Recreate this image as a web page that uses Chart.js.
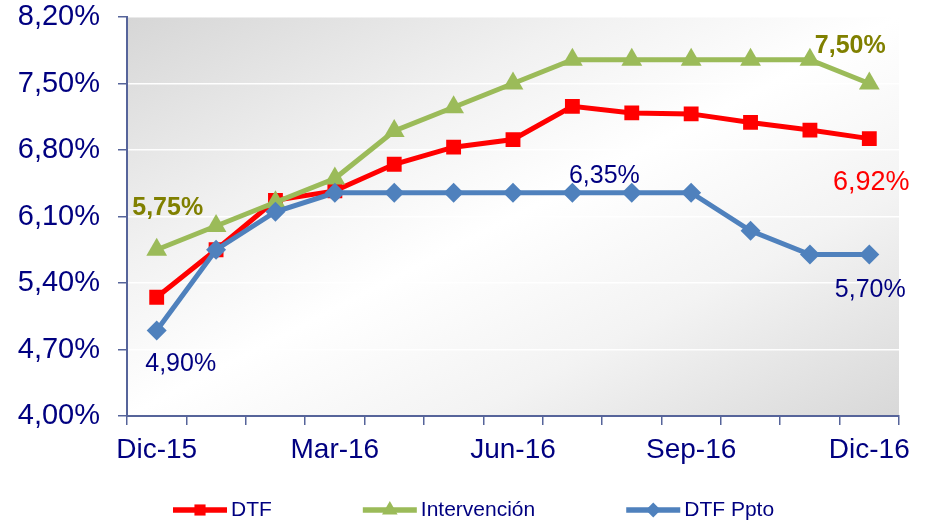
<!DOCTYPE html>
<html>
<head>
<meta charset="utf-8">
<script src="https://cdn.jsdelivr.net/npm/chart.js@4.4.0/dist/chart.umd.min.js"></script>
<style>
  html, body { margin: 0; padding: 0; background: #fff; }
  #wrap { width: 930px; height: 525px; position: relative; }
</style>
</head>
<body>
<div id="wrap"><canvas id="chart"></canvas></div>
<script>
// ===== data
const months = ['Dic-15','Ene-16','Feb-16','Mar-16','Abr-16','May-16','Jun-16',
                'Jul-16','Ago-16','Sep-16','Oct-16','Nov-16','Dic-16'];
const shownMonths = ['Dic-15','Mar-16','Jun-16','Sep-16','Dic-16'];
const dtf          = [5.25, 5.75, 6.27, 6.37, 6.65, 6.83, 6.91, 7.26, 7.19, 7.18, 7.09, 7.01, 6.92];
const intervencion = [5.75, 6.00, 6.25, 6.50, 7.00, 7.25, 7.50, 7.75, 7.75, 7.75, 7.75, 7.75, 7.50];
const dtfPpto      = [4.90, 5.75, 6.15, 6.35, 6.35, 6.35, 6.35, 6.35, 6.35, 6.35, 5.95, 5.70, 5.70];
const yTicks = { min: 4.0, max: 8.2, step: 0.7 };

const navy  = '#000080';
const axisC = '#56649a';
const olive = '#808000';
const font  = '"Liberation Sans", Arial, sans-serif';

const pct = v => v.toFixed(2).replace('.', ',') + '%';

// ===== labels on some points (dataset index, point index, offsets)
const pointLabels = [
  { ds: 1, i: 0,  dx: 11,  dy: -35, color: olive, bold: true,  size: 25 },
  { ds: 1, i: 12, dx: -19, dy: -31, color: olive, bold: true,  size: 25 },
  { ds: 0, i: 12, dx: 2,   dy: 51,  color: '#ff0000', bold: false, size: 27 },
  { ds: 2, i: 0,  dx: 24,  dy: 40,  color: navy, bold: false, size: 25 },
  { ds: 2, i: 7,  dx: 32,  dy: -10, color: navy, bold: false, size: 25 },
  { ds: 2, i: 12, dx: 1,   dy: 42,  color: navy, bold: false, size: 25 }
];

// plot background: grey corners top-left / bottom-right, white across the other diagonal
const plotBg = {
  id: 'plotBg',
  beforeDraw(chart) {
    const { ctx, chartArea: a } = chart;
    const W = a.right - a.left, H = a.bottom - a.top;
    const k = 2 * W * H / (W * W + H * H);
    const g = ctx.createLinearGradient(a.left, a.top, a.left + k * H, a.top + k * W);
    g.addColorStop(0, '#d6d6d6');
    g.addColorStop(0.3, '#f1f1f1');
    g.addColorStop(0.5, '#ffffff');
    g.addColorStop(0.72, '#f3f3f3');
    g.addColorStop(1, '#d8d8d8');
    ctx.save();
    ctx.fillStyle = g;
    ctx.fillRect(a.left, a.top, W, H);
    ctx.restore();
  }
};

const valueLabels = {
  id: 'valueLabels',
  afterDatasetsDraw(chart) {
    const { ctx, scales: { x, y } } = chart;
    ctx.save();
    ctx.textAlign = 'center';
    ctx.textBaseline = 'alphabetic';
    pointLabels.forEach(l => {
      const v = chart.data.datasets[l.ds].data[l.i];
      ctx.font = (l.bold ? 'bold ' : '') + l.size + 'px ' + font;
      ctx.fillStyle = l.color;
      ctx.fillText(pct(v), x.getPixelForValue(l.i) + l.dx, y.getPixelForValue(v) + l.dy);
    });
    ctx.restore();
  }
};

// legend: line + marker, like the office chart
const lineLegend = {
  id: 'lineLegend',
  afterDraw(chart) {
    const { ctx } = chart;
    const yc = 510, lineLen = 54, gap = 91;
    let xPos = 173;
    ctx.save();
    ctx.font = '21px ' + font;
    ctx.textBaseline = 'middle';
    chart.data.datasets.forEach(ds => {
      ctx.strokeStyle = ds.borderColor;
      ctx.lineWidth = 5.5;
      ctx.beginPath();
      ctx.moveTo(xPos, yc);
      ctx.lineTo(xPos + lineLen, yc);
      ctx.stroke();
      ctx.fillStyle = ds.borderColor;
      Chart.helpers.drawPoint(ctx, { pointStyle: ds.pointStyle, radius: ds.pointRadius * 0.75, borderWidth: 0 }, xPos + lineLen / 2, yc);
      ctx.fillStyle = navy;
      ctx.textAlign = 'left';
      ctx.fillText(ds.label, xPos + lineLen + 4, yc);
      xPos += lineLen + 4 + ctx.measureText(ds.label).width + gap;
    });
    ctx.restore();
  }
};

function mkSet(label, data, color, style, r, order) {
  return {
    label, data, order,
    borderColor: color,
    backgroundColor: color,
    borderWidth: 5,
    pointStyle: style,
    pointRadius: r,
    pointHoverRadius: r,
    pointBorderWidth: 0,
    pointBackgroundColor: color,
    tension: 0,
    fill: false
  };
}

new Chart(document.getElementById('chart'), {
  type: 'line',
  data: {
    labels: months,
    datasets: [
      mkSet('DTF', dtf, '#ff0000', 'rect', 10.5, 3),
      mkSet('Intervención', intervencion, '#9bbb59', 'triangle', 12, 2),
      mkSet('DTF Ppto', dtfPpto, '#4f81bd', 'rectRot', 10, 1)
    ]
  },
  options: {
    responsive: true,
    maintainAspectRatio: false,
    animation: false,
    layout: { padding: { left: 0, right: 31, top: 0, bottom: 60 } },
    plugins: { legend: { display: false }, tooltip: { enabled: false } },
    scales: {
      x: {
        offset: true,
        grid: { offset: true, drawOnChartArea: false, color: axisC, tickLength: 9, lineWidth: 1.5 },
        border: { display: true, color: axisC, width: 2 },
        ticks: {
          autoSkip: false, maxRotation: 0, padding: 8,
          color: navy, font: { family: font, size: 28 },
          callback: (v, i) => shownMonths.includes(months[i]) ? months[i] : ''
        },
        afterFit: s => { s.height = 49; }
      },
      y: {
        min: yTicks.min, max: yTicks.max,
        grid: { color: 'rgba(255,255,255,0.95)', lineWidth: 1.5, tickColor: axisC, tickLength: 9 },
        border: { display: true, color: axisC, width: 2 },
        ticks: {
          stepSize: yTicks.step, padding: 18,
          color: navy, font: { family: font, size: 29 },
          callback: v => pct(v)
        },
        afterFit: s => { s.width = 127; s.paddingTop = 17; s.paddingBottom = 0; }
      }
    }
  },
  plugins: [plotBg, valueLabels, lineLegend]
});
</script>
</body>
</html>
